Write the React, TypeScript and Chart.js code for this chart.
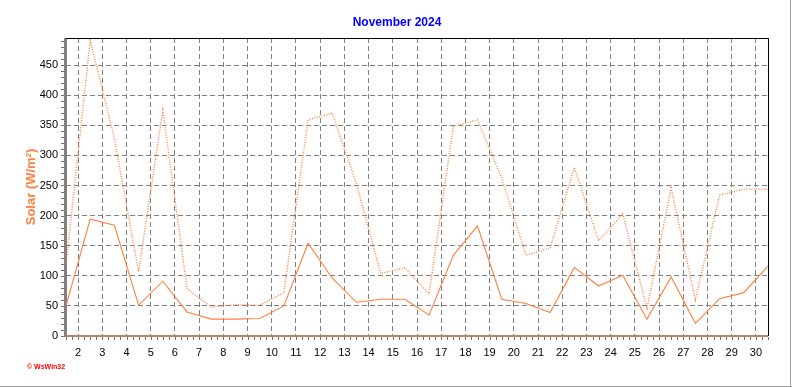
import React, { useEffect, useRef } from "react";
import { Chart, registerables } from "chart.js";

Chart.register(...registerables);

// Day of month (each daily value is drawn centred in its day: day + 0.5)
const days = [1, 2, 3, 4, 5, 6, 7, 8, 9, 10, 11, 12, 13, 14, 15, 16, 17, 18, 19, 20, 21, 22, 23, 24, 25, 26, 27, 28, 29, 30];
// Daily mean solar radiation (W/m²)
const solarAvg = [50, 194, 184, 51, 91, 40, 28, 28, 29, 50, 154, 96, 56, 61, 61, 35, 134, 183, 61, 54, 39, 114, 83, 101, 28, 98, 21, 62, 72, 116];
// Daily maximum solar radiation (W/m²)
const solarMax = [118, 491, 328, 107, 375, 79, 48, 52, 51, 72, 359, 370, 253, 104, 113, 70, 348, 359, 262, 134, 146, 280, 158, 203, 46, 246, 60, 234, 244, 244];
// Daily minimum solar radiation (W/m²)
const solarMin = [0, 0, 0, 0, 0, 0, 0, 0, 0, 0, 0, 0, 0, 0, 0, 0, 0, 0, 0, 0, 0, 0, 0, 0, 0, 0, 0, 0, 0, 0];

const xTickLabels = [2, 3, 4, 5, 6, 7, 8, 9, 10, 11, 12, 13, 14, 15, 16, 17, 18, 19, 20, 21, 22, 23, 24, 25, 26, 27, 28, 29, 30];
const yTickLabels = [0, 50, 100, 150, 200, 250, 300, 350, 400, 450];

const TITLE = "November 2024";
const Y_TITLE = "Solar (W/m²)";
const CREDIT = "© WsWin32";

const ORANGE = "#FF8040";
const GRID = "#808080";
const FONT = "'Liberation Sans', Arial, Helvetica, sans-serif";

const decorPlugin = {
  id: "decor",
  beforeDatasetsDraw(chart: any) {
    const { ctx, chartArea: a, scales } = chart;
    const x = scales.x;
    const y = scales.y;
    ctx.save();
    // axis lines (grey)
    ctx.fillStyle = GRID;
    ctx.fillRect(a.left - 2, a.top, 3, a.bottom - a.top + 1);
    ctx.fillRect(a.left - 2, a.bottom - 1, a.right - a.left + 2, 2);
    // minor ticks
    ctx.strokeStyle = "#707070";
    ctx.lineWidth = 1;
    ctx.beginPath();
    for (let v = 0; v <= y.max + 1e-9; v += 10) {
      const py = Math.round(y.getPixelForValue(v)) + 0.5;
      ctx.moveTo(a.left - 5, py);
      ctx.lineTo(a.left - 2, py);
    }
    for (let v = x.min; v <= x.max + 1e-9; v += 0.25) {
      const px = Math.round(x.getPixelForValue(v)) + 0.5;
      ctx.moveTo(px, a.bottom + 1);
      ctx.lineTo(px, a.bottom + 4);
    }
    ctx.stroke();
    ctx.restore();
  },
  afterDraw(chart: any) {
    const { ctx, chartArea: a, width, height } = chart;
    ctx.save();
    // top / right frame
    ctx.fillStyle = "#000000";
    ctx.fillRect(a.left, a.top, a.right - a.left + 1, 1);
    ctx.fillRect(a.right, a.top, 1, a.bottom - a.top);
    // window border
    ctx.fillStyle = "#A0A0A0";
    ctx.fillRect(0, height - 1, width, 1);
    ctx.fillRect(width - 2, 0, 1, height);
    // title
    ctx.fillStyle = "#0000FF";
    ctx.font = `bold 12px ${FONT}`;
    ctx.textAlign = "center";
    ctx.textBaseline = "middle";
    ctx.fillText(TITLE, width / 2 + 1, 23);
    // credit
    ctx.fillStyle = "#FF0000";
    ctx.font = `bold 7px ${FONT}`;
    ctx.textAlign = "left";
    ctx.fillText(CREDIT, 27, 367);
    ctx.restore();
  },
};

export default function App() {
  const ref = useRef<HTMLCanvasElement | null>(null);

  useEffect(() => {
    if (!ref.current) return;
    const pts = (vals: number[]) => days.map((d, i) => ({ x: d + 0.5, y: vals[i] }));
    const chart = new Chart(ref.current, {
      type: "line",
      data: {
        datasets: [
          {
            label: "Max",
            data: pts(solarMax),
            borderColor: ORANGE,
            borderWidth: 1.4,
            borderDash: [1, 1.5],
            pointRadius: 0,
            tension: 0,
            fill: false,
          },
          {
            label: "Mean",
            data: pts(solarAvg),
            borderColor: ORANGE,
            borderWidth: 1.1,
            pointRadius: 0,
            tension: 0,
            fill: false,
          },
          {
            label: "Min",
            data: pts(solarMin),
            borderColor: ORANGE,
            borderWidth: 1,
            pointRadius: 0,
            tension: 0,
            fill: false,
            clip: false,
          },
        ],
      },
      options: {
        animation: false,
        responsive: false,
        maintainAspectRatio: false,
        devicePixelRatio: 1,
        events: [],
        layout: { padding: { top: 38, right: 24, left: 0, bottom: 0 } },
        plugins: {
          legend: { display: false },
          tooltip: { enabled: false },
          title: { display: false },
        },
        scales: {
          x: {
            type: "linear",
            min: 1.5,
            max: 30.5,
            afterBuildTicks: (s: any) => {
              s.ticks = xTickLabels.map((v) => ({ value: v }));
            },
            afterFit: (s: any) => {
              s.height = 51;
            },
            grid: { color: GRID, lineWidth: 1, drawTicks: false },
            border: { display: false, dash: [5, 3] },
            ticks: {
              color: "#000000",
              font: { family: FONT, size: 11 },
              padding: 10,
              autoSkip: false,
              maxRotation: 0,
            },
          },
          y: {
            type: "linear",
            min: 0,
            max: 495,
            afterBuildTicks: (s: any) => {
              s.ticks = yTickLabels.map((v) => ({ value: v }));
            },
            afterFit: (s: any) => {
              s.width = 66;
            },
            grid: { color: GRID, lineWidth: 1, drawTicks: false },
            border: { display: false, dash: [5, 3] },
            ticks: {
              color: "#000000",
              font: { family: FONT, size: 11 },
              padding: 8,
            },
            title: {
              display: true,
              text: Y_TITLE,
              color: ORANGE,
              font: { family: FONT, size: 13, weight: "bold" },
              padding: { top: 24, bottom: 0 },
            },
          },
        },
      },
      plugins: [decorPlugin],
    } as any);
    return () => chart.destroy();
  }, []);

  return (
    <div style={{ position: "fixed", left: 0, top: 0, width: 792, height: 387, background: "#fff" }}>
      <canvas ref={ref} width={792} height={387} style={{ display: "block", width: 792, height: 387 }} />
    </div>
  );
}
